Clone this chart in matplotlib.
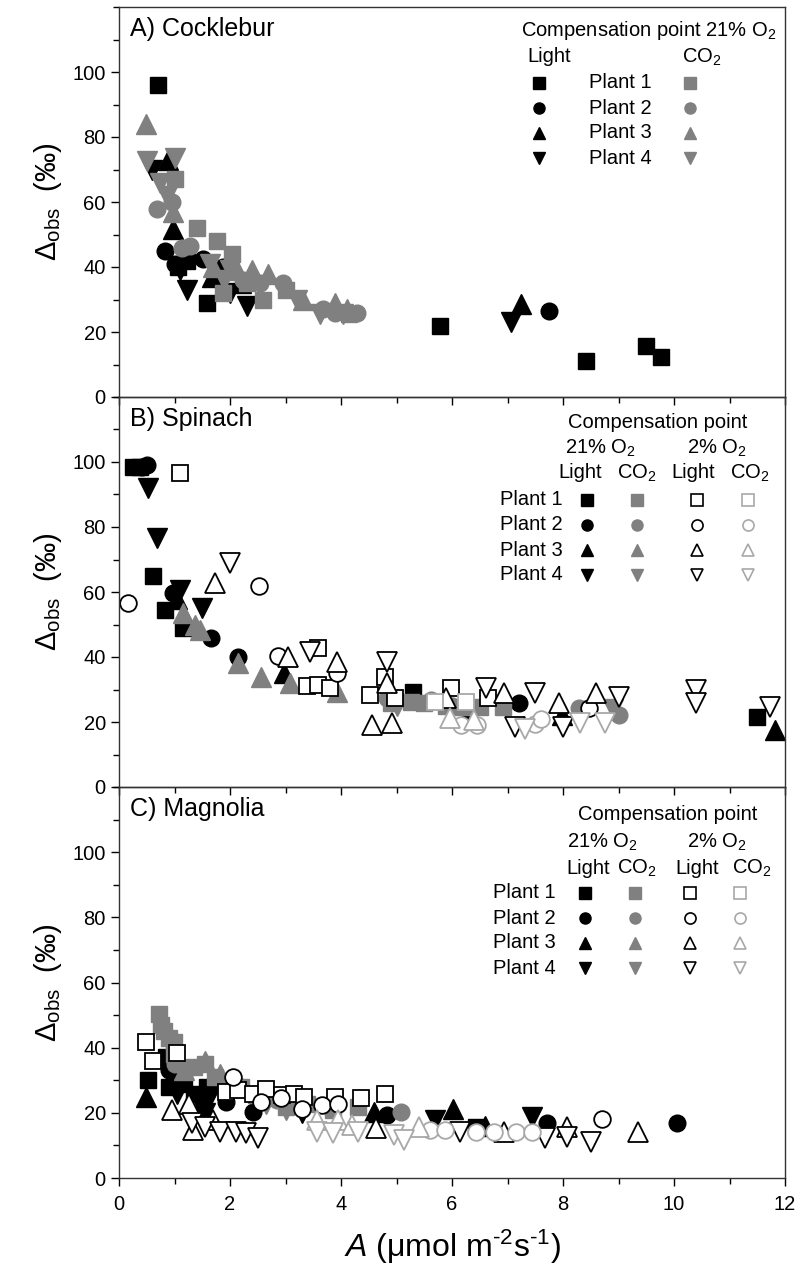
import matplotlib
matplotlib.use("Agg")
import matplotlib.pyplot as plt
from matplotlib.ticker import MultipleLocator

plt.rcParams['font.family'] = ['Liberation Sans', 'DejaVu Sans']
plt.rcParams['mathtext.fontset'] = 'custom'
plt.rcParams['mathtext.rm'] = 'Liberation Sans'
plt.rcParams['mathtext.it'] = 'Liberation Sans:italic'
plt.rcParams['mathtext.sf'] = 'Liberation Sans'

# ---------------- Panel A: Cocklebur (21% O2) ----------------
cock_p1_light = [(0.70, 96), (1.06, 40), (1.22, 42), (1.58, 29), (5.78, 21.7), (8.41, 11.1), (9.49, 15.7), (9.77, 12.2)]
cock_p1_co2 = [(1.0, 67), (1.4, 52), (1.76, 48), (2.03, 44), (1.87, 32), (2.6, 29.7), (2.3, 35), (4.15, 25.6), (3.0, 33)]
cock_p2_light = [(0.83, 45), (1.52, 42.5), (1.87, 40), (7.74, 26.4), (1.0, 41)]
cock_p2_co2 = [(0.69, 58), (0.95, 60), (1.13, 46), (1.28, 46.5), (2.24, 36), (2.54, 35), (2.96, 35), (3.68, 27), (4.28, 26), (3.9, 26)]
cock_p3_light = [(0.88, 73), (0.97, 51.6), (1.67, 37), (7.24, 28.7), (2.2, 35)]
cock_p3_co2 = [(0.49, 84), (0.98, 57), (2.12, 39), (2.39, 39), (2.69, 38), (3.32, 30), (3.89, 29), (4.1, 27), (1.7, 40)]
cock_p4_light = [(0.6, 70), (1.1, 39), (1.22, 33), (2.0, 32), (2.3, 28), (7.06, 23)]
cock_p4_co2 = [(0.5, 72.5), (1.0, 73.5), (0.74, 66), (0.86, 62), (1.64, 41), (2.0, 39), (3.2, 29.7), (3.62, 25.6), (4.04, 25.6), (1.9, 36)]

# ---------------- Panel B: Spinach ----------------
spin_p1_light = [(0.26, 98.6), (0.38, 98.6), (0.62, 65), (0.82, 54.5), (1.16, 48.8), (5.3, 29.3), (11.49, 21.6)]
spin_p1_co2 = [(5.27, 26.3), (6.5, 24.7), (6.92, 24.7), (5.9, 25), (6.2, 24.5), (4.9, 26), (5.5, 26)]
spin_p1_light2 = [(1.1, 96.7), (3.38, 31), (3.59, 31.4), (3.8, 30.6), (3.59, 42.7), (4.79, 33.9), (4.52, 28.3), (4.97, 27.3), (5.99, 30.4), (6.65, 27.3)]
spin_p1_co22 = [(5.7, 26.3), (6.26, 26.3)]
spin_p2_light = [(0.42, 98.5), (0.5, 99), (0.98, 59.6), (1.66, 45.7), (2.14, 40.1), (7.2, 25.7)]
spin_p2_co2 = [(4.82, 27.3), (5.63, 26.8), (8.28, 24.2), (9.0, 22.1), (6.0, 25)]
spin_p2_light2 = [(0.17, 56.5), (2.53, 61.8), (2.87, 40.4), (3.93, 35), (8.47, 24.2)]
spin_p2_co22 = [(6.17, 19), (6.45, 19), (7.5, 19.5), (7.6, 21)]
spin_p3_light = [(1.05, 58), (2.98, 35), (6.3, 23), (7.98, 22.1), (11.82, 17.5)]
spin_p3_co2 = [(1.16, 53.4), (1.37, 49.8), (1.46, 48.3), (2.15, 38.2), (2.55, 33.7), (3.08, 31.9), (3.92, 29.3)]
spin_p3_light2 = [(1.73, 62.7), (3.04, 40.1), (3.93, 38.6), (4.82, 32), (4.55, 19), (4.91, 19.6), (5.9, 27.3), (6.93, 28.8), (7.92, 25.7), (8.6, 28.8)]
spin_p3_co22 = [(5.96, 21.1), (6.4, 20.6)]
spin_p4_light = [(0.53, 92), (0.69, 76.5), (1.1, 60.6), (1.49, 55)]
spin_p4_co2 = [(8.9, 24), (5.0, 25)]
spin_p4_light2 = [(2.0, 68.8), (3.44, 41.6), (4.82, 38.6), (6.62, 30.4), (7.5, 28.8), (9.0, 27.8), (10.4, 29.8), (10.4, 25.7), (11.73, 24.7), (7.14, 18.6), (8.0, 18.6)]
spin_p4_co22 = [(7.32, 18), (8.3, 19.6), (8.76, 19.6)]

# ---------------- Panel C: Magnolia ----------------
mag_p1_light = [(0.53, 30), (0.9, 28), (0.99, 31), (1.18, 29), (1.36, 25.9), (1.59, 28), (6.43, 15.7), (0.85, 37)]
mag_p1_co2 = [(0.72, 50.3), (0.81, 45), (0.99, 41.6), (0.99, 38), (1.36, 34), (1.55, 35), (1.73, 31), (2.19, 28), (2.47, 25.4), (3.0, 21.8), (3.39, 22.8), (3.85, 20.8), (4.3, 21.8), (0.75, 47), (0.9, 43)]
mag_p1_light2 = [(0.49, 41.6), (0.61, 36), (1.04, 38.3), (1.92, 26.4), (2.15, 27), (2.42, 25.9), (2.65, 27.4), (2.93, 25.4), (3.16, 25.9), (3.34, 24.9), (3.9, 24.9), (4.36, 24.4), (4.79, 25.9)]
mag_p1_co22 = []
mag_p2_light = [(0.9, 33), (1.64, 28), (1.92, 23.4), (2.42, 20.3), (4.82, 19.3), (7.72, 16.8), (10.05, 16.8)]
mag_p2_co2 = [(1.0, 35), (2.1, 29), (2.84, 24), (5.09, 20.3)]
mag_p2_light2 = [(2.05, 31), (2.56, 23.4), (2.91, 24.4), (3.3, 21.3), (3.65, 22.3), (3.94, 22.8), (8.7, 18)]
mag_p2_co22 = [(5.6, 14.7), (5.87, 14.7), (6.43, 14.2), (6.75, 14.2), (7.16, 14.2), (7.44, 14.2)]
mag_p3_light = [(0.49, 24.9), (1.5, 22), (4.59, 20.3), (6.01, 21.3), (6.6, 16)]
mag_p3_co2 = [(1.18, 33), (1.55, 36), (1.82, 32)]
mag_p3_light2 = [(0.95, 20.8), (1.27, 22.8), (1.34, 14.7), (1.69, 17.8), (4.63, 15.2), (6.93, 14.2), (8.08, 15.7), (9.36, 14.2)]
mag_p3_co22 = [(3.57, 17.8), (3.94, 17.8), (4.2, 16.2), (5.41, 15.7)]
mag_p4_light = [(0.9, 34), (1.04, 25.9), (1.5, 21.8), (1.59, 23.4), (1.55, 19.8), (3.3, 19.8), (5.69, 17.8), (7.44, 18.8)]
mag_p4_co2 = [(2.65, 22.8), (3.0, 20.8)]
mag_p4_light2 = [(1.32, 16.8), (1.55, 15.7), (1.82, 14.2), (2.1, 14.2), (2.28, 13.7), (2.51, 12.2), (6.15, 14.2), (7.67, 12.2), (8.08, 12.7), (8.5, 11.2)]
mag_p4_co22 = [(3.57, 14.2), (3.85, 13.7), (4.3, 14.2), (4.95, 13.2), (5.14, 11.7)]

panel_titles = ["A) Cocklebur", "B) Spinach", "C) Magnolia"]
plant_labels = ["Plant 1", "Plant 2", "Plant 3", "Plant 4"]

BLACK = "#000000"
GRAY = "#808080"
LGRAY = "#a8a8a8"
markers = ['s', 'o', '^', 'v']
msizes = {'s': 11.5, 'o': 12, '^': 14, 'v': 14}
styles = {
    'light': (BLACK, BLACK),
    'co2': (GRAY, GRAY),
    'light2': ('white', BLACK),
    'co22': ('white', LGRAY),
}

W, H = 805, 1277
fig = plt.figure(figsize=(W / 100, H / 100), dpi=100)
left = 119 / W
width = 666 / W
tops = [7, 397, 787]
bottoms = [397, 787, 1178]
axes = []
for t, b in zip(tops, bottoms):
    ax = fig.add_axes([left, (H - b) / H, width, (b - t) / H])
    ax.patch.set_alpha(0)
    axes.append(ax)


def scatter_group(ax, pts, marker, cond, ms=None, lw=1.0):
    if not pts:
        return
    fc, ec = styles[cond]
    xs = [p[0] for p in pts]
    ys = [p[1] for p in pts]
    ax.plot(xs, ys, linestyle='none', marker=marker, ms=msizes[marker] if ms is None else ms,
            mfc=fc, mec=ec, mew=lw, clip_on=False)


panelA = [[cock_p1_light, cock_p1_co2], [cock_p2_light, cock_p2_co2],
          [cock_p3_light, cock_p3_co2], [cock_p4_light, cock_p4_co2]]
panelB = [[spin_p1_light, spin_p1_co2, spin_p1_light2, spin_p1_co22],
          [spin_p2_light, spin_p2_co2, spin_p2_light2, spin_p2_co22],
          [spin_p3_light, spin_p3_co2, spin_p3_light2, spin_p3_co22],
          [spin_p4_light, spin_p4_co2, spin_p4_light2, spin_p4_co22]]
panelC = [[mag_p1_light, mag_p1_co2, mag_p1_light2, mag_p1_co22],
          [mag_p2_light, mag_p2_co2, mag_p2_light2, mag_p2_co22],
          [mag_p3_light, mag_p3_co2, mag_p3_light2, mag_p3_co22],
          [mag_p4_light, mag_p4_co2, mag_p4_light2, mag_p4_co22]]
conds = ['light', 'co2', 'light2', 'co22']

for ax, panel in zip(axes, [panelA, panelB, panelC]):
    for ci, cond in enumerate(conds):
        for pi in range(4):
            if ci < len(panel[pi]):
                scatter_group(ax, panel[pi][ci], markers[pi], cond,
                              lw=1.0 if cond in ('light', 'co2') else 1.3)

for i, ax in enumerate(axes):
    ax.set_xlim(0, 12)
    ax.set_ylim(0, 120)
    ax.xaxis.set_major_locator(MultipleLocator(2))
    ax.xaxis.set_minor_locator(MultipleLocator(1))
    ax.yaxis.set_minor_locator(MultipleLocator(10))
    ax.set_yticks([0, 20, 40, 60, 80, 100])
    ax.tick_params(axis='both', which='major', direction='out', length=6, width=1.0,
                   labelsize=14.5, top=False, right=False)
    ax.tick_params(axis='both', which='minor', direction='out', length=4, width=1.0,
                   top=False, right=False)
    for sp in ax.spines.values():
        sp.set_linewidth(1.0)
        sp.set_color('#333333')
    if i < 2:
        ax.tick_params(axis='x', labelbottom=False)
    ax.set_ylabel(r"$\Delta_{\mathrm{obs}}$  (‰)", fontsize=21, labelpad=6)
    ax.text(0.017, 0.975, panel_titles[i], transform=ax.transAxes, fontsize=18,
            ha='left', va='top')

axes[2].set_xlabel(r"$A$ ($\mathrm{\mu}$mol m$^{\text{-}2}$s$^{\text{-}1}$)", fontsize=23, labelpad=10)
axes[2].tick_params(axis='x', pad=6)

LFS = 14.5
LMS = 8


def fx(px):
    return (px - 119) / 666


def fy(py, panel):
    return (bottoms[panel] - py) / (bottoms[panel] - tops[panel])


# ---- Legend A ----
ax = axes[0]
ax.text(fx(776), fy(30, 0), "Compensation point 21% O$_2$", transform=ax.transAxes,
        fontsize=LFS, ha='right', va='center')
ax.text(fx(527), fy(57, 0), "Light", transform=ax.transAxes, fontsize=LFS, ha='left', va='center')
ax.text(fx(682), fy(57, 0), "CO$_2$", transform=ax.transAxes, fontsize=LFS, ha='left', va='center')
rowsA = [83, 108, 133, 158]
for pi in range(4):
    yy = fy(rowsA[pi], 0)
    ax.text(fx(589), yy, plant_labels[pi], transform=ax.transAxes, fontsize=LFS, ha='left', va='center')
    for cx, cond in [(539, 'light'), (690, 'co2')]:
        fc, ec = styles[cond]
        ax.plot([fx(cx)], [yy], transform=ax.transAxes, linestyle='none', marker=markers[pi],
                ms=LMS, mfc=fc, mec=ec, clip_on=False)

# ---- Legends B and C ----
leg_cfg = [
    (1, 423, 448, 473, [500, 525, 550, 575], 563, [587, 637, 697, 748], 658, [600, 717], [580, 637, 693, 750]),
    (2, 815, 842, 868, [893, 918, 943, 968], 556, [585, 635, 690, 740], 668, [602, 717], [588, 637, 697, 752]),
]
for (pn, yt, yo, yc, rows, plx, cols, ctx, o2x, hx) in leg_cfg:
    ax = axes[pn]
    ax.text(fx(ctx), fy(yt, pn), "Compensation point", transform=ax.transAxes,
            fontsize=LFS, ha='center', va='center')
    ax.text(fx(o2x[0]), fy(yo, pn), "21% O$_2$", transform=ax.transAxes, fontsize=LFS, ha='center', va='center')
    ax.text(fx(o2x[1]), fy(yo, pn), "2% O$_2$", transform=ax.transAxes, fontsize=LFS, ha='center', va='center')
    for hxx, lab in zip(hx, ["Light", "CO$_2$", "Light", "CO$_2$"]):
        ax.text(fx(hxx), fy(yc, pn), lab, transform=ax.transAxes, fontsize=LFS, ha='center', va='center')
    for pi in range(4):
        yy = fy(rows[pi], pn)
        ax.text(fx(plx), yy, plant_labels[pi], transform=ax.transAxes, fontsize=LFS,
                ha='right', va='center')
        for cx, cond in zip(cols, conds):
            fc, ec = styles[cond]
            ax.plot([fx(cx)], [yy], transform=ax.transAxes, linestyle='none', marker=markers[pi],
                    ms=LMS, mfc=fc, mec=ec, mew=1.0 if cond in ('light', 'co2') else 1.2,
                    clip_on=False)

fig.savefig("out.png", dpi=100)
